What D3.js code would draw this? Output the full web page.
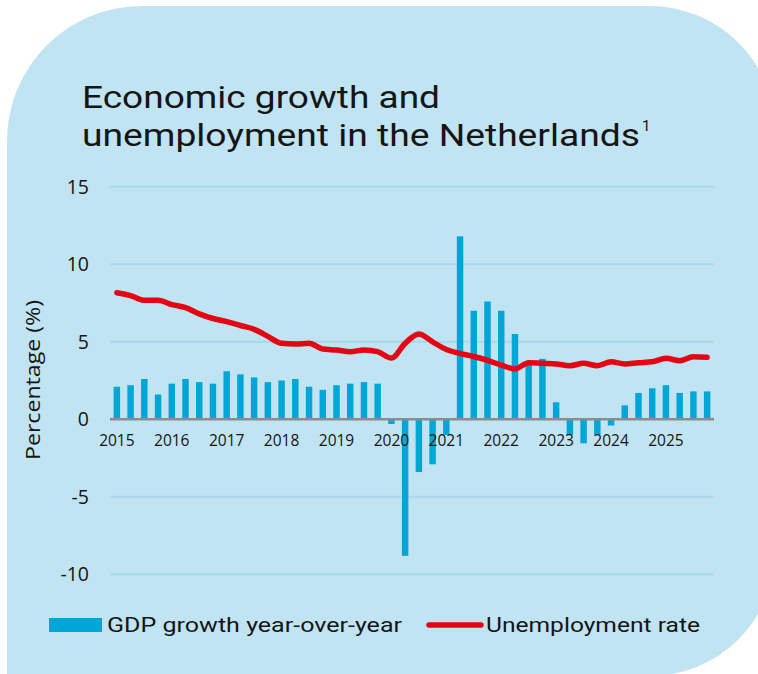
<!DOCTYPE html>
<html>
<head>
<meta charset="utf-8">
<script src="https://cdn.jsdelivr.net/npm/d3@7"></script>
<style>
  html, body { margin: 0; padding: 0; background: #ffffff; }
  svg { display: block; }
</style>
</head>
<body>
<svg id="chart" width="758" height="674"></svg>
<script>
// ---- data ----
const quarters = [];
const years = ["2015","2016","2017","2018","2019","2020","2021","2022","2023","2024","2025"];
years.forEach(y => ["Q1","Q2","Q3","Q4"].forEach(q => quarters.push(y + q)));

const gdpGrowth = [
  2.1, 2.2, 2.6, 1.6,
  2.3, 2.6, 2.4, 2.3,
  3.1, 2.9, 2.7, 2.4,
  2.5, 2.6, 2.1, 1.9,
  2.2, 2.3, 2.4, 2.3,
  -0.3, -8.8, -3.4, -2.9,
  -1.0, 11.8, 7.0, 7.6,
  7.0, 5.5, 3.5, 3.9,
  1.1, -1.0, -1.55, -1.0,
  -0.4, 0.9, 1.7, 2.0,
  2.2, 1.7, 1.8, 1.8
];

const unemployment = [
  8.16, 7.97, 7.67, 7.67,
  7.40, 7.20, 6.80, 6.50,
  6.30, 6.05, 5.80, 5.35,
  4.90, 4.86, 4.90, 4.53,
  4.47, 4.36, 4.47, 4.36,
  3.95, 4.90, 5.50, 5.00,
  4.50, 4.25, 4.05, 3.80,
  3.50, 3.25, 3.65, 3.61,
  3.57, 3.46, 3.61, 3.46,
  3.71, 3.57, 3.65, 3.71,
  3.93, 3.78, 4.04, 4.00
];

const yTicks = [15, 10, 5, 0, -5, -10];
const titleLines = ["Economic growth and", "unemployment in the Netherlands"];
const legendLabels = ["GDP growth year-over-year", "Unemployment rate"];
const yAxisTitle = "Percentage (%)";

// ---- layout ----
const svg = d3.select("#chart");
const colors = { bg: "#c1e4f2", bar: "#00a6d6", line: "#e30613", grid: "#a9d8eb", axis: "#8c8c8c", text: "#151515" };

// background shape
const L = 7, T = 6, R = 775, B = 676, r1 = 135, r2 = 125;
svg.append("path")
  .attr("d", `M${L},${B} L${L},${T + r1} A${r1},${r1} 0 0 1 ${L + r1},${T} L${R - r2},${T} A${r2},${r2} 0 0 1 ${R},${T + r2} L${R},${B - r2} A${r2},${r2} 0 0 1 ${R - r2},${B} Z`)
  .attr("fill", colors.bg);

const x = d3.scalePoint().domain(quarters).range([110, 714]).padding(0.5);
const y = d3.scaleLinear().domain([-10, 15]).range([574.4, 186.7]);
const barW = x.step() * 0.47;

// grid
svg.append("g").selectAll("line").data(yTicks.filter(d => d !== 0)).join("line")
  .attr("x1", 110).attr("x2", 714)
  .attr("y1", d => y(d)).attr("y2", d => y(d))
  .attr("stroke", colors.grid).attr("stroke-width", 2);

// y tick labels
svg.append("g").selectAll("text").data(yTicks).join("text")
  .attr("x", 89).attr("y", d => y(d))
  .attr("dy", "0.35em")
  .attr("text-anchor", "end")
  .attr("font-family", "'Open Sans', 'Noto Sans', sans-serif")
  .attr("font-size", 19.5)
  .attr("fill", colors.text)
  .text(d => d);

// y axis title
svg.append("text")
  .attr("transform", "translate(40,380) rotate(-90)")
  .attr("text-anchor", "middle")
  .attr("font-family", "'Open Sans', 'Noto Sans', sans-serif")
  .attr("font-size", 20)
  .attr("fill", colors.text)
  .attr("textLength", 160).attr("lengthAdjust", "spacingAndGlyphs")
  .text(yAxisTitle);

// bars
svg.append("g").selectAll("rect").data(quarters).join("rect")
  .attr("x", (d) => x(d) - barW / 2)
  .attr("width", barW)
  .attr("y", (d, i) => Math.min(y(gdpGrowth[i]), y(0)))
  .attr("height", (d, i) => Math.abs(y(gdpGrowth[i]) - y(0)))
  .attr("fill", colors.bar);

// zero axis
svg.append("line")
  .attr("x1", 110).attr("x2", 714)
  .attr("y1", y(0)).attr("y2", y(0))
  .attr("stroke", colors.axis).attr("stroke-width", 2.5);

// x labels
svg.append("g").selectAll("text").data(years).join("text")
  .attr("x", d => x(d + "Q1"))
  .attr("y", y(0) + 21)
  .attr("dy", "0.35em")
  .attr("text-anchor", "middle")
  .attr("font-family", "'Open Sans', 'Noto Sans', sans-serif")
  .attr("font-size", 15.5)
  .attr("fill", colors.text)
  .text(d => d);

// unemployment line
const line = d3.line()
  .x((d, i) => x(quarters[i]))
  .y(d => y(d))
  .curve(d3.curveMonotoneX);
svg.append("path")
  .datum(unemployment)
  .attr("d", line)
  .attr("fill", "none")
  .attr("stroke", colors.line)
  .attr("stroke-width", 5.5)
  .attr("stroke-linecap", "round")
  .attr("stroke-linejoin", "round");

// title
const title = svg.append("text")
  .attr("font-family", "Roboto, 'Noto Sans', sans-serif")
  .attr("font-size", 31)
  .attr("fill", colors.text);
title.append("tspan").attr("x", 82).attr("y", 108).attr("textLength", 358).attr("lengthAdjust", "spacingAndGlyphs").text(titleLines[0]);
title.append("tspan").attr("x", 82).attr("y", 146).attr("textLength", 558).attr("lengthAdjust", "spacingAndGlyphs").text(titleLines[1]);
svg.append("text")
  .attr("x", 642).attr("y", 131)
  .attr("font-family", "Roboto, 'Noto Sans', sans-serif")
  .attr("font-size", 15)
  .attr("fill", colors.text)
  .text("1");

// legend
const lg = svg.append("g");
lg.append("rect").attr("x", 49).attr("y", 618).attr("width", 53).attr("height", 14).attr("fill", colors.bar);
lg.append("text").attr("x", 107).attr("y", 625).attr("dy", "0.35em")
  .attr("font-family", "Roboto, 'Noto Sans', sans-serif").attr("font-size", 21).attr("fill", colors.text)
  .attr("textLength", 295).attr("lengthAdjust", "spacingAndGlyphs")
  .text(legendLabels[0]);
lg.append("line").attr("x1", 429).attr("x2", 481).attr("y1", 625).attr("y2", 625)
  .attr("stroke", colors.line).attr("stroke-width", 5.5).attr("stroke-linecap", "round");
lg.append("text").attr("x", 486).attr("y", 625).attr("dy", "0.35em")
  .attr("font-family", "Roboto, 'Noto Sans', sans-serif").attr("font-size", 21).attr("fill", colors.text)
  .attr("textLength", 214).attr("lengthAdjust", "spacingAndGlyphs")
  .text(legendLabels[1]);
</script>
</body>
</html>
